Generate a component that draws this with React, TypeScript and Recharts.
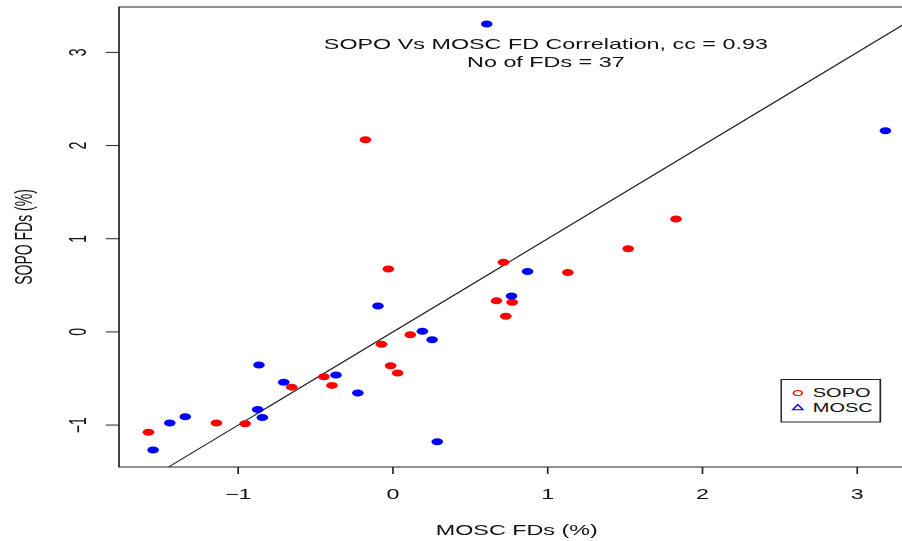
import {
  ScatterChart,
  Scatter,
  XAxis,
  YAxis,
  ReferenceLine,
  ReferenceArea,
  Label,
} from "recharts";

// the source image is an R plot stretched sideways, so draw it square and stretch it
const STRETCH = 902 / 541;
const FONT = "'Liberation Sans', Arial, sans-serif";

const sopoX = [-0.178, -0.03, 0.714, 1.829, 1.52, 1.13, 0.669, 0.77, 0.729, 0.112, -0.074, -0.015, 0.03, -0.446, -0.394, -0.654, -1.141, -0.955, -1.58];
const sopoY = [2.063, 0.674, 0.748, 1.211, 0.893, 0.637, 0.333, 0.319, 0.167, -0.03, -0.133, -0.363, -0.441, -0.481, -0.574, -0.593, -0.978, -0.985, -1.078];

const moscX = [0.606, 3.182, 0.87, 0.766, -0.097, 0.19, 0.253, -0.866, -0.368, -0.706, -0.227, -0.874, -0.844, -1.342, -1.442, -1.55, 0.286];
const moscY = [3.304, 2.159, 0.648, 0.385, 0.278, 0.007, -0.085, -0.356, -0.463, -0.541, -0.656, -0.833, -0.919, -0.911, -0.978, -1.267, -1.178];

const xTicks = [-1, 0, 1, 2, 3];
const yTicks = [-1, 0, 1, 2, 3];
const xDomain = [-1.77, 3.37];
const yDomain = [-1.45, 3.487];

const titleLines = ["SOPO Vs MOSC FD Correlation, cc = 0.93", "No of FDs = 37"];
const legendNames = ["SOPO", "MOSC"];

const sopoData = sopoX.map((x, i) => ({ x, y: sopoY[i] }));
const moscData = moscX.map((x, i) => ({ x, y: moscY[i] }));

const fmt = (v: number) => String(v).replace("-", "\u2212");

const dot = (color: string) => (p: any) =>
  <circle cx={p.cx} cy={p.cy} r={3.5} fill={color} />;

const YTick = (p: any) => {
  const tx = p.x - 12;
  return (
    <text
      x={tx}
      y={p.y}
      transform={`rotate(-90, ${tx}, ${p.y})`}
      textAnchor="middle"
      fontSize={14}
      fontFamily={FONT}
      fill="#111"
    >
      {fmt(p.payload.value)}
    </text>
  );
};

const LegendBox = () => (
  <svg
    width={61}
    height={44}
    style={{ position: "absolute", left: 467.5, top: 379 }}
  >
    <rect x={0.5} y={0.5} width={59.5} height={42.5} fill="#fff" stroke="#222" />
    <circle cx={10.5} cy={14} r={2.6} fill="none" stroke="#ff0000" strokeWidth={1} />
    <polygon points="10.5,25.5 13.6,30.8 7.4,30.8" fill="none" stroke="#0000ff" strokeWidth={1} />
    <text x={19.5} y={18.3} fontSize={12} fontFamily={FONT} fill="#111">{legendNames[0]}</text>
    <text x={19.5} y={32.6} fontSize={12} fontFamily={FONT} fill="#111">{legendNames[1]}</text>
  </svg>
);

const Title = (props: any) => {
  const vb = props.viewBox;
  const cx = vb.x + 256;
  return (
    <g fontFamily={FONT} fontSize={14} fill="#111" textAnchor="middle">
      <text x={cx} y={vb.y + 42}>{titleLines[0]}</text>
      <text x={cx} y={vb.y + 60}>{titleLines[1]}</text>
    </g>
  );
};

export default function App() {
  return (
    <div
      style={{
        position: "fixed",
        left: 0,
        top: 0,
        width: 902,
        height: 541,
        overflow: "hidden",
        background: "#fff",
      }}
    >
      <div
        style={{
          position: "relative",
          width: 560,
          height: 541,
          transform: `scaleX(${STRETCH})`,
          transformOrigin: "0 0",
        }}
      >
        <ScatterChart
          width={560}
          height={541}
          margin={{ top: 7, right: 11.5, bottom: 0, left: 0 }}
        >
          <XAxis
            type="number"
            dataKey="x"
            domain={xDomain}
            ticks={xTicks}
            allowDataOverflow
            height={74}
            axisLine={false}
            tickSize={7}
            tickMargin={15}
            tickLine={{ stroke: "#222" }}
            tick={{ fontSize: 14, fill: "#111", fontFamily: FONT }}
            tickFormatter={fmt}
          >
            <Label
              content={(p: any) => (
                <text
                  x={p.viewBox.x + p.viewBox.width / 2}
                  y={p.viewBox.y + 68}
                  textAnchor="middle"
                  fontSize={14}
                  fontFamily={FONT}
                  fill="#111"
                >
                  MOSC FDs (%)
                </text>
              )}
            />
          </XAxis>
          <YAxis
            type="number"
            dataKey="y"
            domain={yDomain}
            ticks={yTicks}
            allowDataOverflow
            width={71.4}
            axisLine={false}
            tickSize={8}
            tickMargin={0}
            tickLine={{ stroke: "#222" }}
            tick={<YTick />}
          >
            <Label
              content={(p: any) => {
                const lx = p.viewBox.x + 19;
                const ly = p.viewBox.y + p.viewBox.height / 2;
                return (
                  <text
                    x={lx}
                    y={ly}
                    transform={`rotate(-90, ${lx}, ${ly})`}
                    textAnchor="middle"
                    fontSize={14}
                    fontFamily={FONT}
                    fill="#111"
                  >
                    SOPO FDs (%)
                  </text>
                );
              }}
            />
          </YAxis>
          <ReferenceArea
            x1={xDomain[0]}
            x2={xDomain[1]}
            y1={yDomain[0]}
            y2={yDomain[1]}
            fill="none"
            fillOpacity={0}
            stroke="#222"
            strokeWidth={1}
            ifOverflow="visible"
          >
            <Label content={<Title />} />
          </ReferenceArea>
          <ReferenceLine
            segment={[
              { x: -1.45, y: -1.45 },
              { x: 3.37, y: 3.37 },
            ]}
            stroke="#222"
            strokeWidth={1}
            ifOverflow="visible"
          />
          <Scatter name="SOPO" data={sopoData} shape={dot("#ff0000")} isAnimationActive={false} />
          <Scatter name="MOSC" data={moscData} shape={dot("#0000ff")} isAnimationActive={false} />
        </ScatterChart>
        <LegendBox />
      </div>
    </div>
  );
}
